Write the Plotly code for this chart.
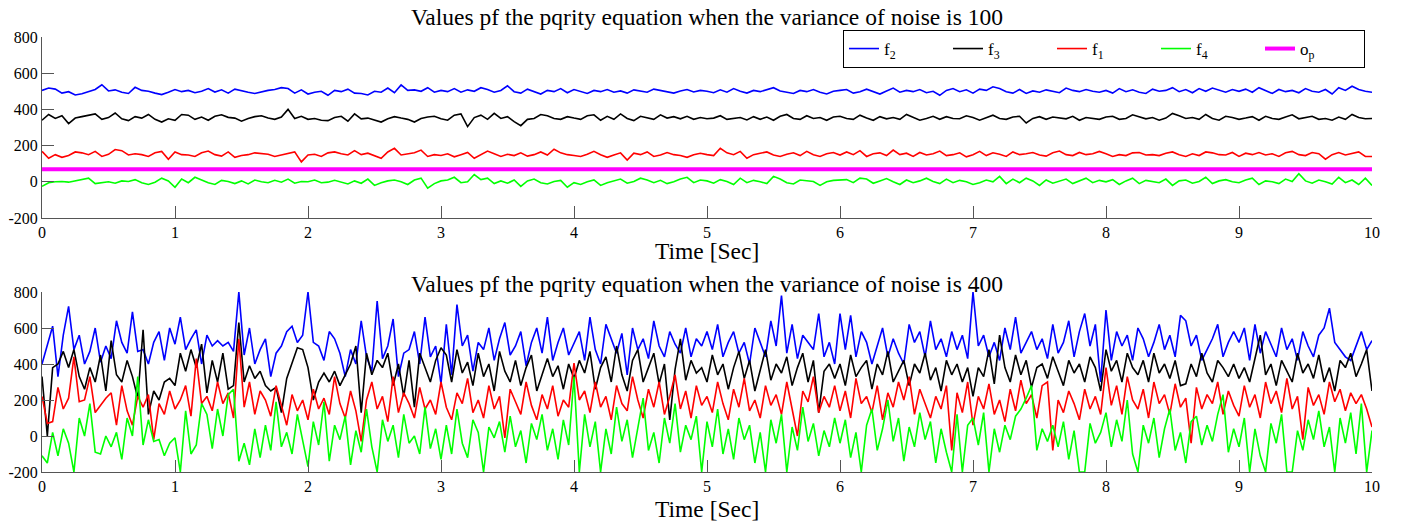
import plotly.graph_objects as go
from plotly.subplots import make_subplots

# noise variance 100, samples every 0.05 s
f2_100 = [505, 518, 512, 490, 498, 480, 486, 500, 510, 536, 502, 508, 495, 488, 522, 505, 500, 490, 482, 495,
          510, 498, 505, 492, 500, 515, 496, 508, 490, 512, 502, 495, 488, 498, 505, 510, 520, 515, 490, 508,
          485, 495, 500, 478, 505, 498, 512, 490, 488, 480, 500, 495, 518, 492, 535, 505, 508, 500, 520, 495,
          505, 498, 515, 495, 508, 500, 520, 510, 495, 505, 530, 498, 490, 512, 500, 485, 505, 498, 515, 492,
          510, 500, 488, 505, 498, 510, 495, 502, 490, 508, 500, 495, 512, 505, 498, 490, 502, 510, 496, 505,
          500, 492, 508, 495, 515, 500, 490, 505, 498, 510, 520, 502, 495, 488, 505, 498, 510, 495, 485, 500,
          505, 510, 490, 498, 512, 500, 485, 502, 518, 495, 505, 498, 510, 492, 500, 478, 505, 515, 498, 508,
          490, 512, 505, 525, 515, 498, 490, 510, 488, 502, 495, 508, 500, 492, 518, 505, 498, 510, 500, 495,
          505, 490, 515, 498, 508, 495, 488, 512, 500, 505, 520, 498, 510, 492, 515, 500, 518, 505, 495, 510,
          500, 512, 495, 520, 505, 488, 510, 498, 505, 492, 515, 500, 495, 510, 485, 520, 505, 528, 510, 500,
          495]
f3_100 = [340, 372, 350, 365, 322, 352, 360, 368, 375, 345, 355, 380, 348, 338, 360, 352, 372, 345, 330, 348,
          340, 372, 368, 345, 358, 340, 362, 370, 356, 352, 335, 350, 360, 365, 352, 345, 358, 400, 350, 362,
          345, 350, 340, 338, 355, 362, 335, 375, 348, 352, 340, 330, 348, 360, 352, 345, 330, 350, 358, 362,
          348, 340, 368, 375, 305, 355, 368, 345, 378, 350, 360, 332, 310, 345, 350, 372, 365, 350, 345, 360,
          352, 345, 365, 370, 340, 362, 345, 375, 350, 338, 362, 355, 345, 370, 352, 360, 348, 362, 345, 355,
          348, 352, 365, 345, 350, 355, 342, 360, 345, 358, 340, 362, 372, 350, 345, 365, 350, 355, 340, 358,
          362, 350, 345, 368, 352, 340, 360, 348, 355, 345, 372, 358, 340, 350, 362, 345, 360, 350, 348, 365,
          355, 340, 352, 368, 350, 345, 358, 362, 325, 350, 360, 345, 358, 352, 348, 362, 340, 355, 350, 345,
          358, 362, 345, 350, 370, 360, 348, 355, 340, 352, 378, 365, 350, 355, 345, 372, 350, 340, 362, 355,
          345, 352, 360, 340, 362, 350, 345, 358, 370, 348, 355, 362, 345, 350, 340, 358, 345, 372, 355, 348,
          350]
f1_100 = [168, 130, 150, 135, 145, 165, 160, 150, 168, 140, 152, 178, 172, 148, 155, 150, 140, 160, 168, 125,
          165, 150, 148, 140, 160, 170, 150, 142, 165, 135, 145, 150, 160, 158, 152, 140, 148, 155, 165, 110,
          148, 152, 140, 160, 165, 155, 148, 172, 150, 158, 142, 130, 165, 185, 148, 152, 160, 175, 140, 150,
          145, 155, 138, 150, 162, 130, 148, 170, 155, 140, 152, 145, 160, 142, 150, 165, 148, 180, 160, 150,
          145, 140, 152, 168, 150, 135, 148, 160, 120, 158, 150, 165, 140, 148, 162, 150, 145, 135, 150, 158,
          150, 145, 185, 160, 150, 168, 130, 150, 158, 165, 148, 140, 152, 160, 145, 168, 150, 140, 155, 162,
          148, 165, 150, 172, 140, 155, 160, 145, 175, 150, 158, 140, 162, 148, 155, 170, 145, 150, 160, 138,
          150, 168, 145, 160, 152, 140, 165, 150, 155, 162, 148, 142, 160, 170, 150, 145, 162, 150, 155, 168,
          155, 140, 150, 145, 160, 162, 148, 150, 145, 158, 165, 150, 140, 155, 145, 165, 160, 150, 148, 162,
          140, 158, 150, 162, 148, 155, 140, 160, 168, 150, 145, 162, 155, 125, 150, 162, 148, 155, 165, 140,
          140]
f4_100 = [-25, -5, 0, 2, -2, 5, 10, 20, -10, -5, 0, -8, 5, 2, 12, -5, -15, -2, 20, 5,
          -30, 15, -5, 25, 10, -5, -15, 8, 2, -10, 5, -12, 10, 0, -5, 8, -2, 15, -8, 2,
          0, 10, -5, -2, 8, 0, -12, 5, -8, 15, -20, -5, 5, 10, 0, -15, 10, 20, -35, -10,
          5, 10, 25, -5, 0, 40, 12, 20, -10, 5, -8, 10, -25, 5, 15, -5, -12, 2, 8, -30,
          -5, -15, 0, 10, -20, -5, 5, 15, -8, 2, 20, 10, -5, 8, -10, 0, 15, 25, -5, 10,
          5, -8, 12, 2, -15, 20, -5, 8, 0, -10, 30, 15, -5, -12, 10, 5, 2, -20, 0, 8,
          10, 12, -5, 20, 15, -8, 5, 18, 0, -15, 10, -5, 5, 20, 2, -10, 15, -5, 8, 0,
          -15, -5, 10, 0, 30, -10, 15, -5, 20, 5, -20, 10, -8, 2, 15, -10, 5, 20, -5, 8,
          0, 12, -15, 5, 20, -10, 8, 0, -5, 15, -20, 5, 10, -8, 2, 25, -10, 5, 12, 0,
          -5, 10, 20, -15, 5, 0, -10, 15, 2, 45, 5, -8, 10, 0, -12, 25, -5, 10, -15, 20,
          -20]
op_level = 70

# noise variance 400, samples every 0.04 s
f2_400 = [400, 500, 610, 330, 560, 720, 480, 560, 400, 470, 600, 410, 500, 430, 640, 520, 460, 690, 470, 480, 400, 520, 580, 420, 600,
          510, 660, 480, 540, 590, 400, 560, 500, 530, 500, 520, 470, 800, 450, 600, 400, 480, 540, 330, 460, 500, 580, 610, 520, 560,
          800, 520, 500, 420, 580, 540, 460, 330, 480, 400, 640, 440, 360, 750, 430, 500, 650, 330, 460, 480, 580, 400, 660, 440, 500,
          290, 620, 340, 730, 500, 560, 360, 520, 480, 600, 420, 540, 630, 450, 500, 580, 390, 520, 600, 460, 660, 420, 520, 600, 450,
          520, 580, 420, 660, 480, 400, 620, 540, 460, 570, 340, 600, 480, 540, 430, 640, 500, 440, 580, 510, 460, 600, 440, 540, 500,
          580, 480, 620, 440, 520, 580, 460, 520, 400, 600, 520, 440, 640, 500, 780, 460, 620, 430, 560, 520, 480, 680, 440, 520, 400,
          680, 480, 670, 440, 580, 520, 400, 500, 600, 440, 540, 460, 400, 620, 520, 580, 440, 640, 480, 540, 440, 580, 480, 560, 430,
          800, 500, 560, 440, 520, 420, 600, 480, 660, 460, 520, 580, 480, 540, 430, 620, 460, 520, 640, 440, 580, 680, 500, 620, 300,
          700, 420, 580, 500, 560, 420, 600, 540, 440, 520, 620, 480, 560, 440, 670, 640, 500, 560, 420, 480, 540, 620, 440, 520, 580,
          520, 600, 420, 620, 460, 580, 510, 440, 600, 480, 540, 420, 580, 500, 440, 560, 600, 710, 520, 480, 440, 420, 500, 580, 480,
          530]
f3_400 = [330, 0, 380, 400, 470, 380, 480, 330, 260, 380, 300, 450, 250, 530, 340, 300, 420, 330, 210, 590, 120, 250, 200, 300, 320,
          280, 460, 360, 480, 380, 510, 240, 420, 300, 460, 260, 280, 630, 300, 390, 320, 360, 280, 250, 270, 130, 320, 400, 490, 480,
          380, 200, 300, 350, 300, 360, 280, 340, 400, 500, 130, 460, 340, 420, 380, 460, 280, 400, 220, 420, 160, 460, 380, 300, 420,
          490, 450, 300, 480, 350, 410, 280, 460, 330, 400, 250, 470, 360, 300, 420, 280, 380, 450, 250, 340, 430, 330, 390, 260, 400,
          320, 420, 350, 470, 260, 380, 440, 300, 500, 340, 250, 420, 480, 300, 380, 460, 290, 400, 90, 370, 540, 310, 420, 350, 380,
          300, 450, 340, 400, 260, 380, 470, 320, 420, 250, 360, 480, 310, 400, 350, 440, 280, 380, 460, 300, 420, 130, 360, 400, 320,
          400, 280, 450, 330, 380, 420, 260, 400, 340, 470, 300, 360, 420, 280, 400, 350, 460, 310, 380, 250, 420, 340, 400, 300, 380,
          220, 380, 330, 480, 290, 560, 380, 300, 450, 340, 420, 270, 380, 400, 320, 440, 360, 280, 420, 350, 400, 300, 440, 380, 250,
          480, 360, 420, 300, 460, 380, 340, 420, 300, 460, 350, 400, 320, 420, 280, 290, 400, 330, 460, 350, 300, 420, 380, 330, 400,
          320, 380, 300, 430, 560, 340, 400, 280, 420, 360, 300, 460, 350, 400, 320, 450, 300, 380, 250, 420, 380, 460, 330, 400, 480,
          250]
f1_400 = [220, 70, 80, 270, 150, 210, 440, 190, 200, 330, 130, 170, 210, 240, 60, 280, 140, 60, 220, 160, 230, -20, 180, 120, 250,
          150, 200, 280, 110, 430, 180, 220, 140, 300, 180, 240, 100, 540, 160, 300, 120, 250, 200, 110, 280, 170, 60, 230, 140, 200,
          90, 260, 150, 210, 120, 330, 180, 100, 250, 140, -30, 200, 300, 150, 220, 80, 330, 130, 240, 180, 100, 270, 150, 200, 120,
          300, 160, 90, 240, 180, 320, 130, 200, 100, 280, 150, 220, -10, 260, 190, 120, 300, 170, 90, 230, 150, 280, 110, 200, 160,
          405, 200, 250, 130, 300, 160, 220, 90, 280, 180, 140, 330, 200, 100, 260, 160, 300, 120, 220, 340, 150, 250, 100, 280, 170,
          220, 130, 300, 180, 90, 260, 160, 320, 140, 200, 100, 280, 170, 230, 120, 300, 150, 0, 250, 190, 330, 130, 220, 160, 280,
          140, 250, 100, 320, 180, 220, 130, 280, 90, 240, 160, 300, 200, 330, 120, 260, 180, 100, 220, 150, 280, -80, 240, 130, 300,
          60, 220, 150, 290, 120, 200, 80, 260, 140, 310, 180, 230, 100, 280, 300, -80, 200, 130, 250, 180, 90, 260, 150, 220, 120,
          380, 170, 280, 120, 330, 200, 150, 260, 100, 300, 180, 230, 120, 290, 160, 210, -40, 270, 150, 230, 180, 300, 120, 250, 170,
          110, 280, 160, 230, 100, 300, 180, 250, 130, 320, 150, 220, -20, 270, 170, 230, 120, 300, 190, 260, 140, 240, 180, 230, 150,
          50]
f4_400 = [-110, -150, 20, -110, 40, -40, -200, 100, 0, 180, -90, -100, 0, -60, 20, -130, 100, 0, 330, -50, 90, -30, -20, -110, -40,
          -10, -200, 140, -100, -50, 180, 120, -70, 150, 0, 230, 260, -140, -40, -160, 40, -120, 60, -80, 190, -60, 20, -100, 120, -20,
          -170, 80, -50, 190, -140, 60, -20, 110, -160, 30, -90, 150, -60, -200, 90, -30, 60, -120, 120, -40, 0, -100, 160, -70, 40,
          -130, 60, -100, 150, -40, -120, 90, 20, -200, 50, -10, 80, -90, 110, -60, 30, -150, 70, -20, 120, -80, 40, -130, 90, -50,
          330, -200, 120, -60, 80, -200, 40, -100, 160, -30, 90, -120, 50, 210, -80, 20, -150, 100, -40, 180, -90, 60, -20, 110, -200,
          80, -60, 150, -100, 40, -130, 100, -20, 60, -150, 20, -200, 90, -40, 120, -200, 50, -80, 160, -30, 70, -110, 30, -60, 100,
          -40, 90, -120, 20, -200, 60, 150, -80, 40, 200, -30, 100, -140, 50, -60, 130, -20, 80, -150, 40, -90, -200, 120, -200, 60,
          100, -50, 130, -200, 40, -90, 60, -20, 110, 150, 210, 280, -80, 40, -30, 60, -60, 80, -130, 30, -200, -200, 70, -40, 20,
          130, -60, 90, -30, 200, -100, -200, 60, -40, 100, -120, 40, 150, -80, 20, -150, 80, 110, -50, 60, -30, 120, 230, -90, 40,
          -60, 100, -200, 40, -110, -200, 70, -40, 120, -200, -200, 30, -80, 90, -20, 140, -60, 50, -200, 100, -40, 130, -100, 180, -200,
          30]

y_ticks = [-200, 0, 200, 400, 600, 800]
y_labels = ['-200', '0', '200', '400', '600', '800']
x_ticks = [0, 1, 2, 3, 4, 5, 6, 7, 8, 9, 10]

T_END = 10
FONT = 'Liberation Serif'


def times(series):
    n = len(series)
    return [T_END * i / (n - 1) for i in range(n)]


fig = make_subplots(rows=2, cols=1)

top = [
    ('f<sub>2</sub>', f2_100, 'rgb(0,0,255)'),
    ('f<sub>3</sub>', f3_100, 'rgb(0,0,0)'),
    ('f<sub>1</sub>', f1_100, 'rgb(255,0,0)'),
    ('f<sub>4</sub>', f4_100, 'rgb(0,255,0)'),
]
bottom = [
    ('f<sub>2</sub>', f2_400, 'rgb(0,0,255)'),
    ('f<sub>3</sub>', f3_400, 'rgb(0,0,0)'),
    ('f<sub>1</sub>', f1_400, 'rgb(255,0,0)'),
    ('f<sub>4</sub>', f4_400, 'rgb(0,255,0)'),
]

for name, vals, color in top:
    fig.add_trace(go.Scatter(x=times(vals), y=vals, mode='lines', name=name,
                             line=dict(color=color, width=1.6)), row=1, col=1)

op_vals = [op_level] * len(f2_100)
fig.add_trace(go.Scatter(x=times(op_vals), y=op_vals, mode='lines', name='o<sub>p</sub>',
                         line=dict(color='rgb(255,0,255)', width=4)), row=1, col=1)

for name, vals, color in bottom:
    fig.add_trace(go.Scatter(x=times(vals), y=vals, mode='lines', name=name, showlegend=False,
                             line=dict(color=color, width=1.6)), row=2, col=1)

# the page body adds an 8px margin, so the figure is drawn 8px in from the window corner
PAGE_PAD = 8
W, H = 1408 - PAGE_PAD, 525 - PAGE_PAD
L, R = 42 - PAGE_PAD, 36


def py(pix):
    # window pixel row -> paper coordinate
    return 1 - (pix - PAGE_PAD) / H


axis_style = dict(showline=True, linecolor='#555555', linewidth=1, mirror=False,
                  ticks='inside', ticklen=12, tickcolor='#555555', tickwidth=1,
                  showgrid=False, zeroline=False, automargin=False,
                  tickfont=dict(family=FONT, size=16, color='black'))

fig.update_xaxes(range=[0, T_END], tickvals=x_ticks, **axis_style)
fig.update_yaxes(range=[-200, 800], tickvals=y_ticks, ticktext=y_labels, **axis_style)
fig.update_layout(
    yaxis=dict(domain=[py(218), py(37)]),
    yaxis2=dict(domain=[py(472), py(292)]),
)

title_font = dict(family=FONT, size=23.5, color='black')
notes = [
    ('Values pf the pqrity equation when the variance of noise is 100', py(17)),
    ('Time [Sec]', py(251)),
    ('Values pf the pqrity equation when the variance of noise is 400', py(284)),
    ('Time [Sec]', py(509)),
]
for text, yy in notes:
    fig.add_annotation(text=text, x=0.5, y=yy, xref='paper', yref='paper',
                       xanchor='center', yanchor='middle', showarrow=False, font=title_font)

fig.update_layout(
    width=W, height=H,
    margin=dict(l=L, r=R, t=0, b=0),
    paper_bgcolor='white', plot_bgcolor='white',
    legend=dict(orientation='h', x=(843 - 42) / (1372 - 42), y=py(30),
                xanchor='left', yanchor='top',
                bordercolor='black', borderwidth=1, bgcolor='white',
                entrywidth=59, entrywidthmode='pixels',
                font=dict(family=FONT, size=17, color='black')),
)

fig.write_html('out.html')
